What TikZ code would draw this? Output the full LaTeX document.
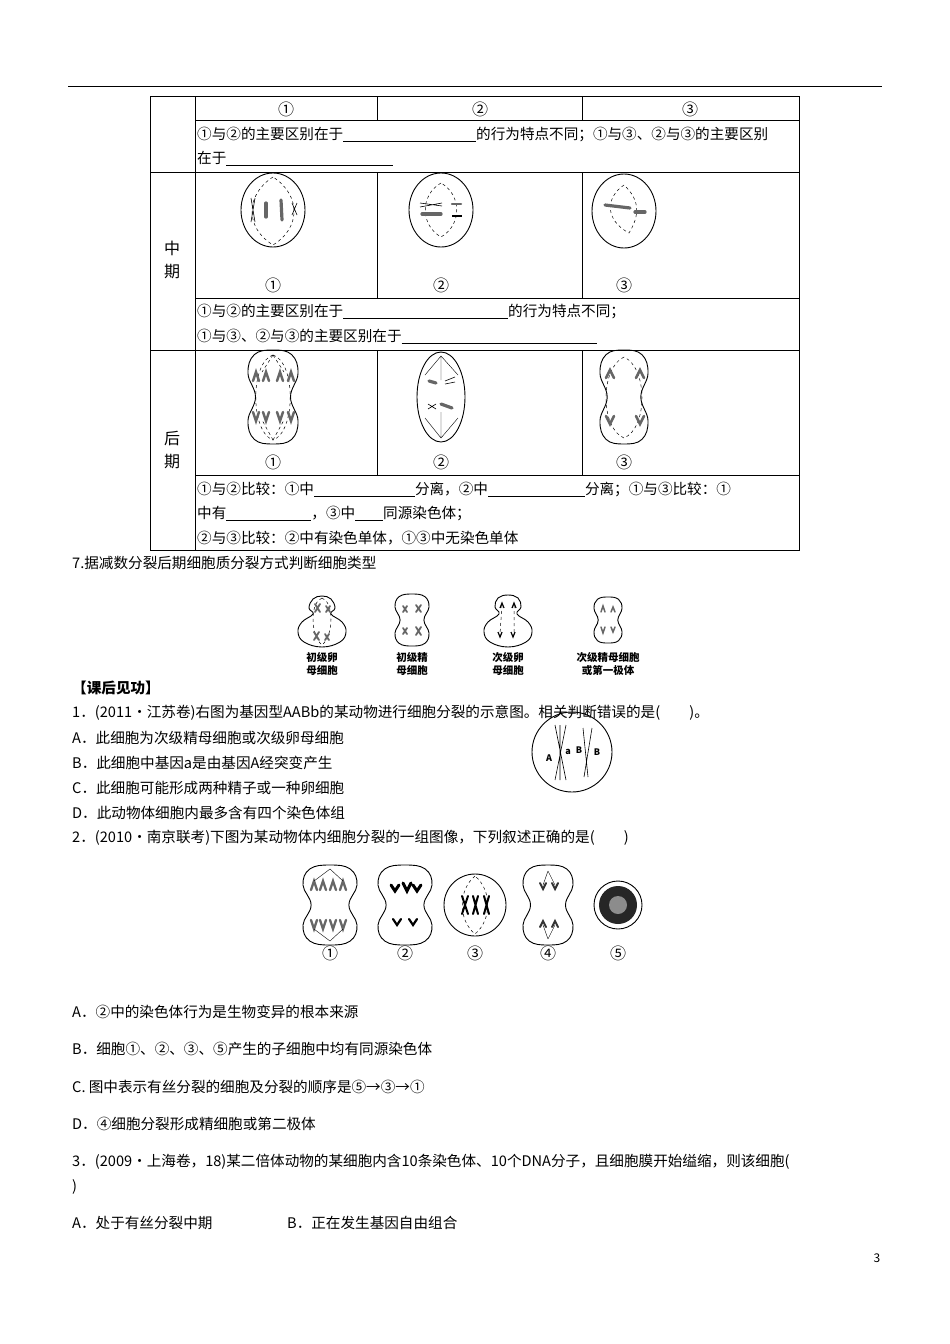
\documentclass[tikz,border=0pt]{standalone}
\usepackage{fontspec}
\setmainfont{Noto Sans CJK SC}
\begin{document}
\begin{tikzpicture}[x=1pt,y=-1pt,
  cell/.style={draw,line width=0.9pt},
  spin/.style={dashed,line width=0.5pt},
  chr/.style={line width=3.2pt,draw=black!60,line cap=round},
  och/.style={line width=0.6pt,draw=black},
  txt/.style={anchor=west,inner sep=0pt,font=\fontsize{14.6}{16}\selectfont},
  lbl/.style={inner sep=0pt,font=\fontsize{16}{16}\selectfont},
  sl/.style={inner sep=0pt,align=center,font=\bfseries\fontsize{10.5}{13}\selectfont}]
\newcommand\blank[1]{\rule[-2pt]{#1pt}{0.5pt}}
\newcommand\pnut[4]{% cx cy halfw halfh
 \begin{scope}[shift={(#1,#2)},x=#3pt,y=-#4pt]
 \draw[cell] plot[smooth cycle,tension=0.7] coordinates {(0,-1)(0.75,-0.9)(1,-0.5)(0.7,0)(1,0.5)(0.75,0.9)(0,1)(-0.75,0.9)(-1,0.5)(-0.7,0)(-1,-0.5)(-0.75,-0.9)};
 \end{scope}}
\path[use as bounding box,fill=white] (0,0) rectangle (950,1344);
\draw[line width=1pt] (68,86) -- (882,86);
% table
\draw[line width=0.9pt] (150,96) rectangle (799,550);
\draw (195,96) -- (195,550);
\foreach \y in {172,350} \draw (150,\y) -- (799,\y);
\foreach \y in {120,298,475} \draw (195,\y) -- (799,\y);
\draw (377,96) -- (377,120); \draw (582,96) -- (582,120);
\draw (377,172) -- (377,298); \draw (582,172) -- (582,298);
\draw (377,350) -- (377,475); \draw (582,350) -- (582,475);
\node[lbl] (h1) at (286,109) {①}; \node[lbl] (h2) at (480,109) {②}; \node[lbl] (h3) at (690,109) {③};
\node[txt] (t1) at (197,134) {①与②的主要区别在于\blank{133}的行为特点不同；①与③、②与③的主要区别};
\node[txt] (t2) at (197,158) {在于\blank{167}};
\node[lbl] (z1) at (172,248) {中}; \node[lbl] (z2) at (172,272) {期};
\node[lbl] (hq1) at (172,438) {后}; \node[lbl] (hq2) at (172,462) {期};
\node[lbl] (m1) at (273,285) {①}; \node[lbl] (m2) at (441,285) {②}; \node[lbl] (m3) at (624,285) {③};
\node[lbl] (a1) at (273,462) {①}; \node[lbl] (a2) at (441,462) {②}; \node[lbl] (a3) at (624,462) {③};
\node[txt] (t3) at (197,311) {①与②的主要区别在于\blank{165}的行为特点不同；};
\node[txt] (t4) at (197,336) {①与③、②与③的主要区别在于\blank{195}};
\node[txt] (t5) at (197,489) {①与②比较：①中\blank{101}分离，②中\blank{97}分离；①与③比较：①};
\node[txt] (t6) at (197,513) {中有\blank{85}，③中\blank{28}同源染色体；};
\node[txt] (t7) at (197,538) {②与③比较：②中有染色单体，①③中无染色单体};
% metaphase cells
\draw[cell] (273,210) ellipse[x radius=32,y radius=37];
\draw[spin] (273,177) .. controls (245,195) and (245,228) .. (273,245) .. controls (301,228) and (301,195) .. (273,177);
\draw[chr] (266,203) -- (266,217); \draw[chr] (281,200) -- (282,220);
\draw[och] (251,198) -- (255,222) (255,198) -- (251,222) (292,203) -- (297,215) (297,203) -- (292,215);
\draw[cell] (441,210) ellipse[x radius=32,y radius=37];
\draw[spin] (441,183) .. controls (420,195) and (420,225) .. (441,237) .. controls (462,225) and (462,195) .. (441,183);
\draw[och] (420,203) -- (442,206) (420,207) -- (442,203); \draw[chr] (422,214) -- (441,214);
\draw[chr,line width=2.5pt] (452,204) -- (461,204); \draw[och,line width=2pt] (452,216) -- (462,216);
\draw[cell] (624,211) ellipse[x radius=32,y radius=37];
\draw[spin] (624,185) .. controls (605,198) and (605,220) .. (629,233) .. controls (640,215) and (640,200) .. (624,185);
\draw[chr] (605,205) -- (630,208); \draw[chr] (635,212) -- (645,212);
% anaphase cells
\pnut{273}{397}{25}{47}
\draw[spin] (273,355) .. controls (250,362) and (250,432) .. (273,440);
\draw[spin] (273,355) .. controls (296,362) and (296,432) .. (273,440);
\draw[spin] (273,355) -- (262,372) (273,355) -- (284,372) (273,440) -- (262,420) (273,440) -- (284,420);
\foreach \x in {256,266,280,291} {\draw[chr,line width=2.5pt] (\x-3,381) -- (\x,372) -- (\x+3,381); \draw[chr,line width=2.5pt] (\x-3,412) -- (\x,421) -- (\x+3,412);}
\draw[cell] (441,397) ellipse[x radius=24,y radius=45];
\draw[thin] (441,356) -- (441,380) (441,438) -- (441,412) (441,356) -- (425,375) (441,356) -- (458,375) (441,438) -- (425,418) (441,438) -- (458,418);
\draw[chr] (429,381) -- (436,383); \draw[och] (445,381) -- (455,377) (445,384) -- (455,382);
\draw[chr] (441,404) -- (452,408); \draw[och] (428,409) -- (436,404) (428,404) -- (436,409);
\pnut{624}{397}{24}{47}
\draw[spin] (624,357) .. controls (600,368) and (600,428) .. (624,438) .. controls (648,428) and (648,368) .. (624,357);
\draw[chr,line width=2.5pt] (606,378) -- (610,370) -- (614,378); \draw[chr,line width=2.5pt] (636,378) -- (640,370) -- (644,378);
\draw[chr,line width=2.5pt] (606,416) -- (610,424) -- (614,416); \draw[chr,line width=2.5pt] (636,416) -- (640,424) -- (644,416);
% section 7
\node[txt] (s7) at (72,563) {7.据减数分裂后期细胞质分裂方式判断细胞类型};
\begin{scope}[shift={(322,620)}]
\draw[cell] plot[smooth cycle,tension=0.7] coordinates {(0,-24)(9,-21)(13,-12)(9,-6)(20,2)(24,12)(18,22)(0,27)(-18,22)(-24,12)(-20,2)(-9,-6)(-13,-12)(-9,-21)};
\draw[spin] (0,-22) .. controls (-12,-18) and (-12,15) .. (0,25) .. controls (12,15) and (12,-18) .. (0,-22);
\draw[chr,line width=1.8pt] (-7,-16)--(-2,-8) (-7,-8)--(-2,-16) (4,-14)--(8,-8) (8,-14)--(4,-8) (-8,12)--(-3,20) (-8,20)--(-3,12) (3,14)--(7,20) (7,14)--(3,20);
\end{scope}
\pnut{412}{620}{17}{26}
\begin{scope}[shift={(412,620)}]
\draw[chr,line width=1.8pt] (-9,-14)--(-5,-8) (-9,-8)--(-5,-14) (4,-15)--(9,-8) (9,-15)--(4,-8) (-9,8)--(-5,14) (-9,14)--(-5,8) (4,7)--(9,15) (9,7)--(4,15);
\end{scope}
\begin{scope}[shift={(508,620)}]
\draw[cell] plot[smooth cycle,tension=0.7] coordinates {(0,-25)(10,-22)(13,-13)(9,-6)(20,2)(24,12)(18,22)(0,27)(-18,22)(-24,12)(-20,2)(-9,-6)(-13,-13)(-10,-22)};
\draw[spin] (-6,-15) -- (-8,14) (6,-15) -- (6,14);
\draw[och,line width=1.2pt] (-8,-12)--(-6,-17)--(-4,-12) (4,-12)--(6,-17)--(8,-12) (-10,12)--(-8,17)--(-6,12) (3,12)--(5,17)--(7,12);
\end{scope}
\pnut{608}{620}{14}{23}
\begin{scope}[shift={(608,620)}]
\draw[chr,line width=1.5pt] (-7,-8)--(-5,-14)--(-3,-8) (3,-8)--(5,-13)--(7,-8) (-7,7)--(-5,13)--(-3,7) (3,7)--(5,12)--(7,7);
\end{scope}
\node[sl] (l1) at (322,664) {初级卵\\母细胞};
\node[sl] (l2) at (412,664) {初级精\\母细胞};
\node[sl] (l3) at (508,664) {次级卵\\母细胞};
\node[sl] (l4) at (608,664) {次级精母细胞\\或第一极体};
% after class
\node[txt,font=\bfseries\fontsize{14.6}{16}\selectfont] (kh) at (72,688) {【课后见功】};
\node[txt] (q1) at (72,713) {1．(2011·江苏卷)右图为基因型AABb的某动物进行细胞分裂的示意图。相关判断错误的是(\hspace{2em})。};
\node[txt] (q1a) at (72,738) {A．此细胞为次级精母细胞或次级卵母细胞};
\node[txt] (q1b) at (72,763) {B．此细胞中基因a是由基因A经突变产生};
\node[txt] (q1c) at (72,788) {C．此细胞可能形成两种精子或一种卵细胞};
\node[txt] (q1d) at (72,813) {D．此动物体细胞内最多含有四个染色体组};
\draw[cell] (572,752) circle[radius=40];
\draw[och] (555,725) -- (566,780) (560,725) -- (560,780) (566,725) -- (555,780);
\draw[och] (583,728) -- (588,777) (592,728) -- (584,777);
\node[inner sep=0pt,font=\bfseries\fontsize{9}{9}\selectfont] (ga) at (549,758) {A};
\node[inner sep=0pt,font=\bfseries\fontsize{9}{9}\selectfont] (gba) at (579,750) {B};
\node[inner sep=0pt,font=\bfseries\fontsize{9}{9}\selectfont] (gbb) at (597,752) {B};
\node[inner sep=0pt,font=\bfseries\fontsize{9}{9}\selectfont] (gaa) at (568,752) {a};
\node[txt] (q2) at (72,838) {2．(2010·南京联考)下图为某动物体内细胞分裂的一组图像，下列叙述正确的是(\hspace{2em})};
% Q2 images
\pnut{330}{905}{27}{40}
\begin{scope}[shift={(330,905)}]
\foreach \x in {-16,-7,3,13} {\draw[chr,line width=2.3pt] (\x-3,-15)--(\x,-24)--(\x+3,-15); \draw[chr,line width=2.3pt] (\x-3,15)--(\x,24)--(\x+3,15);}
\draw[thin] (0,-36)--(-16,-24) (0,-36)--(13,-24) (0,36)--(-16,24) (0,36)--(13,24);
\end{scope}
\pnut{405}{905}{27}{40}
\begin{scope}[shift={(405,905)}]
\draw[chr,line width=3pt,draw=black] (-14,-20)--(-10,-14)--(-6,-20) (-2,-22)--(2,-14)--(6,-22) (8,-20)--(12,-14)--(16,-20);
\draw[chr,line width=2.2pt,draw=black] (-12,14)--(-8,20)--(-4,14) (4,14)--(8,20)--(12,14);
\end{scope}
\draw[cell] (475,905) circle[radius=31];
\draw[spin] (475,876) .. controls (458,890) and (458,920) .. (475,934) .. controls (492,920) and (492,890) .. (475,876);
\draw[chr,line width=2pt,draw=black] (462,896)--(468,914) (468,896)--(462,914) (473,896)--(478,914) (478,896)--(473,914) (484,896)--(489,914) (489,896)--(484,914);
\pnut{548}{905}{25}{40}
\begin{scope}[shift={(548,905)}]
\draw[chr,line width=2pt,draw=black!80] (-8,-22)--(-5,-16)--(-2,-22) (4,-22)--(7,-16)--(10,-22) (-8,22)--(-5,16)--(-2,22) (4,22)--(7,16)--(10,22);
\draw[thin] (0,-34)--(-5,-20) (0,-34)--(7,-20) (0,34)--(-5,20) (0,34)--(7,20);
\end{scope}
\draw[cell] (618,905) circle[radius=24];
\fill[black!85] (618,905) circle[radius=19];
\fill[black!45] (618,905) circle[radius=9];
\node[lbl] (n1) at (330,953) {①}; \node[lbl] (n2) at (405,953) {②}; \node[lbl] (n3) at (475,953) {③}; \node[lbl] (n4) at (548,953) {④}; \node[lbl] (n5) at (618,953) {⑤};
\node[txt] (o2a) at (72,1012) {A．②中的染色体行为是生物变异的根本来源};
\node[txt] (o2b) at (72,1049) {B．细胞①、②、③、⑤产生的子细胞中均有同源染色体};
\node[txt] (o2c) at (72,1087) {C. 图中表示有丝分裂的细胞及分裂的顺序是⑤→③→①};
\node[txt] (o2d) at (72,1124) {D．④细胞分裂形成精细胞或第二极体};
\node[txt] (q3) at (72,1162) {3．(2009·上海卷，18)某二倍体动物的某细胞内含10条染色体、10个DNA分子，且细胞膜开始缢缩，则该细胞(};
\node[txt] (q3b) at (72,1187) {)};
\node[txt] (o3a) at (72,1223) {A．处于有丝分裂中期};
\node[txt] (o3b) at (287,1223) {B．正在发生基因自由组合};
\node[lbl,font=\fontsize{12}{14}\selectfont] (pg) at (877,1258) {3};
\end{tikzpicture}
\end{document}
